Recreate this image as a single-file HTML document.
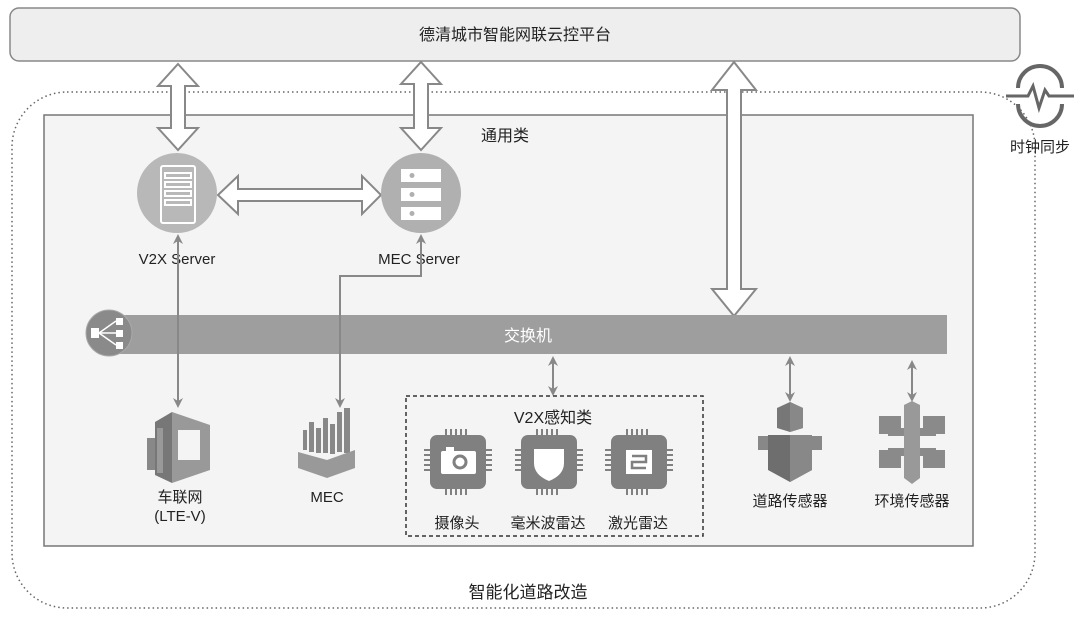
<!DOCTYPE html>
<html><head><meta charset="utf-8"><style>
html,body{margin:0;padding:0;background:#fff;}
svg{display:block;}
text{font-family:"Liberation Sans","Noto Sans CJK SC",sans-serif;fill:#222;}
</style></head><body>
<svg width="1080" height="619" viewBox="0 0 1080 619" xmlns="http://www.w3.org/2000/svg">
<defs>
<marker id="ah" markerWidth="10" markerHeight="10" refX="8" refY="5" orient="auto-start-reverse" markerUnits="userSpaceOnUse">
<path d="M0,0 L10,5 L0,10 L3,5 Z" fill="#888"/>
</marker>
</defs>
<rect x="10" y="8" width="1010" height="53" rx="9" fill="#eeeeee" stroke="#888" stroke-width="1.5"/>
<text x="515" y="40" font-size="16" text-anchor="middle">德清城市智能网联云控平台</text>
<rect x="12" y="92" width="1023" height="516" rx="55" fill="none" stroke="#666" stroke-width="1.5" stroke-dasharray="1.5 3"/>
<rect x="44" y="115" width="929" height="431" fill="#f4f4f4" stroke="#777" stroke-width="1.5"/>
<text x="505" y="141" font-size="16" text-anchor="middle">通用类</text>
<g fill="#fff" stroke="#888" stroke-width="2">
<polygon points="178,64 198,86 185,86 185,128 198,128 178,150 158,128 171,128 171,86 158,86"/>
<polygon points="421,62 441,84 428,84 428,128 441,128 421,150 401,128 414,128 414,84 401,84"/>
<polygon points="734,62 756,90 741,90 741,289 756,289 734,316 712,289 727,289 727,90 712,90"/>
<polygon points="218,195 238,176 238,189 362,189 362,176 381,195 362,214 362,201 238,201 238,214"/>
</g>
<circle cx="177" cy="193" r="40" fill="#b8b8b8"/>
<rect x="161" y="166" width="34" height="57" rx="2" fill="none" stroke="#fff" stroke-width="2"/>
<g fill="none" stroke="#fff" stroke-width="2">
<rect x="165" y="173" width="26" height="5"/><rect x="165" y="182" width="26" height="5"/><rect x="165" y="191" width="26" height="5"/><rect x="165" y="200" width="26" height="5"/>
</g>
<circle cx="421" cy="193" r="40" fill="#b0b0b0"/>
<g fill="#fff"><rect x="401" y="169" width="40" height="13"/><rect x="401" y="188" width="40" height="13"/><rect x="401" y="207" width="40" height="13"/></g>
<g fill="#b0b0b0"><circle cx="412" cy="175.5" r="2.5"/><circle cx="412" cy="194.5" r="2.5"/><circle cx="412" cy="213.5" r="2.5"/></g>
<text x="177" y="264" font-size="15" text-anchor="middle">V2X Server</text>
<text x="419" y="264" font-size="15" text-anchor="middle">MEC Server</text>
<g stroke="#888" stroke-width="2" fill="none">
<line x1="178" y1="236" x2="178" y2="406" marker-start="url(#ah)" marker-end="url(#ah)"/>
<polyline points="340,406 340,276 421,276 421,236" marker-start="url(#ah)" marker-end="url(#ah)"/>
<line x1="553" y1="358" x2="553" y2="394" marker-start="url(#ah)" marker-end="url(#ah)"/>
<line x1="790" y1="358" x2="790" y2="400" marker-start="url(#ah)" marker-end="url(#ah)"/>
<line x1="912" y1="362" x2="912" y2="400" marker-start="url(#ah)" marker-end="url(#ah)"/>
</g>
<rect x="100" y="315" width="847" height="39" fill="#9e9e9e"/>
<line x1="178" y1="315" x2="178" y2="354" stroke="#888" stroke-width="2"/>
<line x1="340" y1="315" x2="340" y2="354" stroke="#888" stroke-width="2"/>
<text x="528" y="341" font-size="16" text-anchor="middle" style="fill:#fff">交换机</text>
<circle cx="109" cy="333" r="23" fill="#8a8a8a" stroke="#aaa" stroke-width="1"/>
<g fill="#fff"><rect x="91" y="328" width="8" height="10"/><rect x="116" y="318" width="7" height="7"/><rect x="116" y="330" width="7" height="7"/><rect x="116" y="342" width="7" height="7"/></g>
<g stroke="#fff" stroke-width="1.5"><line x1="99" y1="333" x2="116" y2="321"/><line x1="99" y1="333" x2="116" y2="333"/><line x1="99" y1="333" x2="116" y2="345"/></g>
<g>
<polygon points="172,412 210,425 210,470 172,483" fill="#999"/>
<polygon points="172,412 155,422 155,475 172,483" fill="#777"/>
<rect x="178" y="430" width="22" height="30" fill="#f4f4f4"/>
<rect x="147" y="438" width="8" height="32" fill="#888"/>
<rect x="157" y="428" width="6" height="45" fill="#999"/>
</g>
<text x="180" y="502" font-size="15" text-anchor="middle">车联网</text>
<text x="180" y="521" font-size="15" text-anchor="middle">(LTE-V)</text>
<g fill="#888">
<rect x="303" y="430" width="4" height="20"/><rect x="309" y="422" width="5" height="30"/><rect x="316" y="428" width="5" height="25"/><rect x="323" y="418" width="5" height="35"/><rect x="330" y="424" width="5" height="30"/><rect x="337" y="412" width="5" height="40"/><rect x="344" y="408" width="6" height="45"/>
<polygon points="298,452 327,460 355,450 355,468 327,478 298,468" fill="#999"/>
</g>
<text x="327" y="502" font-size="15" text-anchor="middle">MEC</text>
<rect x="406" y="396" width="297" height="140" fill="none" stroke="#333" stroke-width="1.5" stroke-dasharray="4 3"/>
<text x="553" y="423" font-size="16" text-anchor="middle">V2X感知类</text>
<g fill="#808080">
<rect x="430" y="435" width="56" height="54" rx="7"/>
<rect x="521" y="435" width="56" height="54" rx="7"/>
<rect x="611" y="435" width="56" height="54" rx="7"/>
<g stroke="#808080" stroke-width="2">
<path d="M446 429v6M451 429v6M456 429v6M461 429v6M466 429v6M446 489v6M451 489v6M456 489v6M461 489v6M466 489v6M424 450h6M424 455h6M424 460h6M424 465h6M424 470h6M486 450h6M486 455h6M486 460h6M486 465h6M486 470h6"/>
<path d="M537 429v6M542 429v6M547 429v6M552 429v6M557 429v6M537 489v6M542 489v6M547 489v6M552 489v6M557 489v6M515 450h6M515 455h6M515 460h6M515 465h6M515 470h6M577 450h6M577 455h6M577 460h6M577 465h6M577 470h6"/>
<path d="M627 429v6M632 429v6M637 429v6M642 429v6M647 429v6M627 489v6M632 489v6M637 489v6M642 489v6M647 489v6M605 450h6M605 455h6M605 460h6M605 465h6M605 470h6M667 450h6M667 455h6M667 460h6M667 465h6M667 470h6"/>
</g>
</g>
<rect x="441" y="451" width="35" height="23" rx="2" fill="#fff"/>
<rect x="446" y="447" width="8" height="5" fill="#fff"/>
<circle cx="460" cy="462" r="7.5" fill="#808080"/><circle cx="460" cy="462" r="4.5" fill="#fff"/>
<path d="M534 449 h30 v14 q0 12 -15 18 q-15 -6 -15 -18 z" fill="#fff"/>
<rect x="626" y="450" width="26" height="24" fill="#fff"/>
<path d="M632 456 h14 v6 h-14 v6 h14" fill="none" stroke="#808080" stroke-width="2.5"/>
<text x="457" y="528" font-size="15" text-anchor="middle">摄像头</text>
<text x="548" y="528" font-size="15" text-anchor="middle">毫米波雷达</text>
<text x="638" y="528" font-size="15" text-anchor="middle">激光雷达</text>
<polygon points="777,408 790,402 803,408 803,428 790,432 777,428" fill="#777"/>
<polygon points="790,402 803,408 803,428 790,432" fill="#888"/>
<rect x="758" y="436" width="64" height="14" fill="#888"/>
<polygon points="768,435 812,435 812,470 790,482 768,470" fill="#6e6e6e"/>
<polygon points="790,435 812,435 812,470 790,482" fill="#888"/>
<text x="790" y="506" font-size="15" text-anchor="middle">道路传感器</text>
<g fill="#8a8a8a">
<rect x="879" y="416" width="22" height="18"/><rect x="923" y="416" width="22" height="18"/>
<rect x="879" y="450" width="22" height="18"/><rect x="923" y="450" width="22" height="18"/>
<rect x="888" y="428" width="48" height="8"/><rect x="888" y="448" width="48" height="8"/>
</g>
<polygon points="904,405 912,401 920,405 920,478 912,484 904,478" fill="#999"/>
<text x="912" y="506" font-size="15" text-anchor="middle">环境传感器</text>
<g fill="none" stroke="#666" stroke-width="4">
<path d="M1018,88 A22,22 0 0 1 1062,88"/>
<path d="M1018,104 A22,22 0 0 0 1062,104"/>
</g>
<polyline points="1006,96 1028,96 1033,86 1039,108 1045,90 1049,96 1074,96" fill="none" stroke="#666" stroke-width="3"/>
<text x="1040" y="152" font-size="15" text-anchor="middle">时钟同步</text>
<text x="528" y="598" font-size="17" text-anchor="middle">智能化道路改造</text>
</svg>
</body></html>
